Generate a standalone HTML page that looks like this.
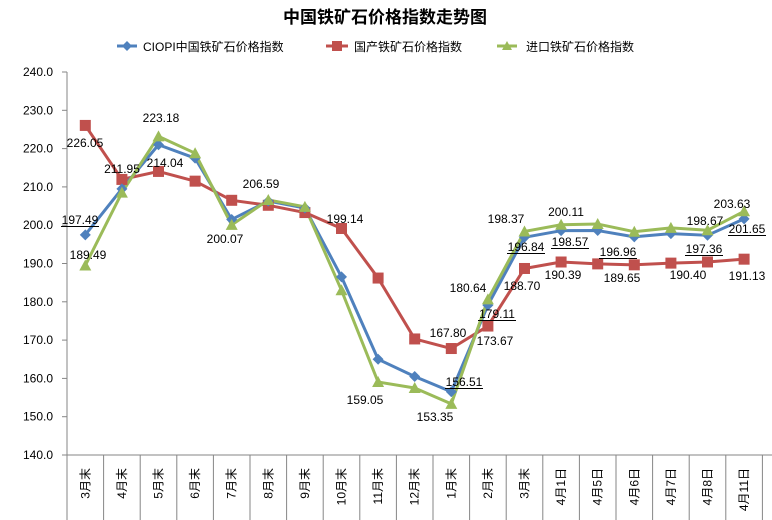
<!DOCTYPE html>
<html><head><meta charset="utf-8"><style>
html,body{margin:0;padding:0;background:#fff;}
svg{display:block;font-family:"Liberation Sans","Noto Sans CJK SC",sans-serif;}
</style></head><body>
<svg id="c" width="772" height="520" xmlns="http://www.w3.org/2000/svg">
<text x="385" y="23" text-anchor="middle" font-size="17" font-weight="bold" fill="#000">中国铁矿石价格指数走势图</text>
<line x1="117" y1="46" x2="137" y2="46" stroke="#4F81BD" stroke-width="3"/>
<path d="M127 41 L132 46 L127 51 L122 46Z" fill="#4F81BD"/>
<text x="143" y="51" font-size="12">CIOPI中国铁矿石价格指数</text>
<line x1="326" y1="46" x2="348" y2="46" stroke="#C0504D" stroke-width="3"/>
<rect x="332" y="41" width="10" height="10" fill="#C0504D"/>
<text x="354" y="51" font-size="12">国产铁矿石价格指数</text>
<line x1="497" y1="46" x2="517" y2="46" stroke="#9BBB59" stroke-width="3"/>
<path d="M507 41 L512 50 L502 50Z" fill="#9BBB59"/>
<text x="526" y="51" font-size="12">进口铁矿石价格指数</text>
<g id="g"></g>
</svg>
<script>
var g=document.getElementById('g'),h='';
function Y(v){return 72+(240-v)*3.83;}
function X(i){return 85.3+36.6*i;}
h+='<line x1="67" y1="72" x2="67" y2="520" stroke="#868686"/>';
h+='<line x1="67" y1="455" x2="772" y2="455" stroke="#868686"/>';
for(var v=140;v<=240;v+=10){var y=Y(v);h+='<line x1="62" y1="'+y+'" x2="67" y2="'+y+'" stroke="#868686"/><text x="53" y="'+(y+4)+'" text-anchor="end" font-size="12">'+v.toFixed(1)+'</text>';}
var cats=['3月末','4月末','5月末','6月末','7月末','8月末','9月末','10月末','11月末','12月末','1月末','2月末','3月末','4月1日','4月5日','4月6日','4月7日','4月8日','4月11日'];
for(var i=0;i<19;i++){var bx=67+36.6*(i+1);h+='<line x1="'+bx+'" y1="455" x2="'+bx+'" y2="520" stroke="#868686"/>';
h+='<text transform="translate('+(X(i)+4)+',468) rotate(-90)" text-anchor="end" font-size="12">'+cats[i]+'</text>';}
var b=[197.49,209.5,221,217.5,201.5,206.3,204.5,186.5,165,160.5,156.51,179.11,196.84,198.57,198.6,196.96,197.8,197.36,201.65];
var r=[226.05,211.95,214.04,211.5,206.5,205.2,203.3,199.14,186.2,170.3,167.80,173.67,188.70,190.39,189.9,189.65,190.1,190.40,191.13];
var gr=[189.49,208.5,223.18,218.8,200.07,206.59,204.8,183,159.05,157.5,153.35,180.64,198.37,200.11,200.3,198.3,199.3,198.67,203.63];
function line(d,c){var p=d.map(function(v,i){return X(i)+','+Y(v)}).join(' ');h+='<polyline points="'+p+'" fill="none" stroke="'+c+'" stroke-width="3" stroke-linejoin="round"/>';}
line(r,'#C0504D');line(b,'#4F81BD');line(gr,'#9BBB59');
r.forEach(function(v,i){h+='<rect x="'+(X(i)-5.5)+'" y="'+(Y(v)-5.5)+'" width="11" height="11" fill="#C0504D"/>';});
b.forEach(function(v,i){var x=X(i),y=Y(v);h+='<path d="M'+x+' '+(y-5.5)+' L'+(x+5.5)+' '+y+' L'+x+' '+(y+5.5)+' L'+(x-5.5)+' '+y+'Z" fill="#4F81BD"/>';});
gr.forEach(function(v,i){var x=X(i),y=Y(v);h+='<path d="M'+x+' '+(y-6)+' L'+(x+6)+' '+(y+5)+' L'+(x-6)+' '+(y+5)+'Z" fill="#9BBB59"/>';});
var L=[['226.05',85,147],['211.95',122,173],['214.04',165,167],['223.18',161,122],['197.49',80,224,1],['189.49',88,259],['200.07',225,243],['206.59',261,188],
['199.14',345,223],['159.05',365,404],['153.35',435,421],['167.80',448,337],['156.51',464,386,1],['180.64',468,292],['179.11',497,318,1],['173.67',495,345],
['198.37',506,223],['196.84',526,251,1],['188.70',522,290],['200.11',566,216],['198.57',570,246,1],['190.39',563,279],['196.96',618,256,1],['189.65',622,282],
['198.67',705,225],['197.36',704,253,1],['190.40',688,279],['203.63',732,208],['201.65',747,233,1],['191.13',747,280]];
L.forEach(function(a){h+='<text x="'+a[1]+'" y="'+a[2]+'" text-anchor="middle" font-size="12">'+a[0]+'</text>';
if(a[3])h+='<line x1="'+(a[1]-19)+'" y1="'+(a[2]+2.5)+'" x2="'+(a[1]+19)+'" y2="'+(a[2]+2.5)+'" stroke="#000" stroke-width="1"/>';});
g.innerHTML=h;
</script>
</body></html>
